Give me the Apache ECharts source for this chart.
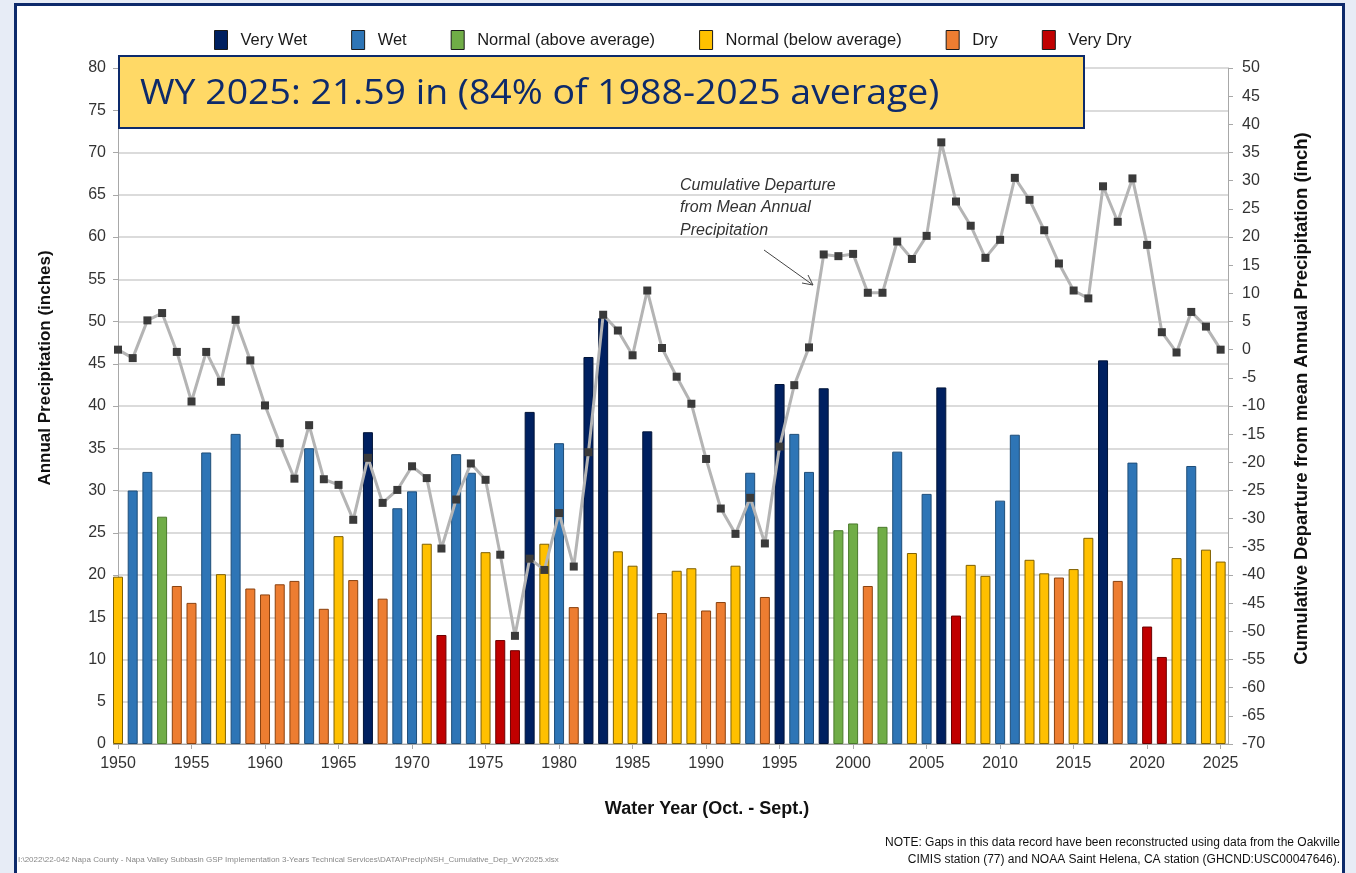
<!DOCTYPE html>
<html>
<head>
<meta charset="utf-8">
<script src="https://cdn.jsdelivr.net/npm/echarts@6/dist/echarts.min.js"></script>
<style>
  html, body { margin: 0; padding: 0; background: #e7ecf6; }
  #panel { position: absolute; left: 14px; top: 3px; width: 1331px; height: 890px;
           background: #fff; border: 3px solid #0d2a6b; box-sizing: border-box; }
  #chart { position: absolute; left: 0; top: 0; width: 1356px; height: 873px; }
</style>
</head>
<body>
<div id="panel"></div>
<div id="chart"></div>
<script>
// water years
const years = [
  1950, 1951, 1952, 1953, 1954, 1955, 1956, 1957, 1958, 1959,
  1960, 1961, 1962, 1963, 1964, 1965, 1966, 1967, 1968, 1969,
  1970, 1971, 1972, 1973, 1974, 1975, 1976, 1977, 1978, 1979,
  1980, 1981, 1982, 1983, 1984, 1985, 1986, 1987, 1988, 1989,
  1990, 1991, 1992, 1993, 1994, 1995, 1996, 1997, 1998, 1999,
  2000, 2001, 2002, 2003, 2004, 2005, 2006, 2007, 2008, 2009,
  2010, 2011, 2012, 2013, 2014, 2015, 2016, 2017, 2018, 2019,
  2020, 2021, 2022, 2023, 2024, 2025
];

// annual precipitation (inches)
const precip = [
  19.8, 30.0, 32.2, 26.9, 18.7, 16.7, 34.5, 20.1, 36.7, 18.4,
  17.7, 18.9, 19.3, 35.0, 16.0, 24.6, 19.4, 36.9, 17.2, 27.9,
  29.9, 23.7, 12.9, 34.3, 32.1, 22.7, 12.3, 11.1, 39.3, 23.7,
  35.6, 16.2, 45.8, 50.4, 22.8, 21.1, 37.0, 15.5, 20.5, 20.8,
  15.8, 16.8, 21.1, 32.1, 17.4, 42.6, 36.7, 32.2, 42.1, 25.3,
  26.1, 18.7, 25.7, 34.6, 22.6, 29.6, 42.2, 15.2, 21.2, 19.9,
  28.8, 36.6, 21.8, 20.2, 19.7, 20.7, 24.4, 45.4, 19.3, 33.3,
  13.9, 10.3, 22.0, 32.9, 23.0, 21.59
];

// year type: VW very wet, W wet, NA normal above, NB normal below, D dry, VD very dry
const yearType = [
  'NB', 'W', 'W', 'NA', 'D', 'D', 'W', 'NB', 'W', 'D',
  'D', 'D', 'D', 'W', 'D', 'NB', 'D', 'VW', 'D', 'W',
  'W', 'NB', 'VD', 'W', 'W', 'NB', 'VD', 'VD', 'VW', 'NB',
  'W', 'D', 'VW', 'VW', 'NB', 'NB', 'VW', 'D', 'NB', 'NB',
  'D', 'D', 'NB', 'W', 'D', 'VW', 'W', 'W', 'VW', 'NA',
  'NA', 'D', 'NA', 'W', 'NB', 'W', 'VW', 'VD', 'NB', 'NB',
  'W', 'W', 'NB', 'NB', 'D', 'NB', 'NB', 'VW', 'D', 'W',
  'VD', 'VD', 'NB', 'W', 'NB', 'NB'
];

// cumulative departure from mean annual precipitation (inch)
const cumDeparture = [
  0.0, -1.5, 5.2, 6.5, -0.4, -9.2, -0.4, -5.7, 5.3, -1.9,
  -9.9, -16.6, -22.9, -13.4, -23.0, -24.0, -30.2, -19.2, -27.2, -24.9,
  -20.7, -22.8, -35.3, -26.6, -20.2, -23.1, -36.4, -50.8, -37.1, -39.1,
  -29.0, -38.5, -18.2, 6.2, 3.4, -1.0, 10.5, 0.3, -4.8, -9.6,
  -19.4, -28.2, -32.7, -26.3, -34.4, -17.2, -6.3, 0.4, 16.9, 16.6,
  17.0, 10.1, 10.1, 19.2, 16.1, 20.2, 36.8, 26.3, 22.0, 16.3,
  19.5, 30.5, 26.6, 21.2, 15.3, 10.5, 9.1, 29.0, 22.7, 30.4,
  18.6, 3.1, -0.5, 6.7, 4.1, 0.0
];

const typeCodes = ['VW', 'W', 'NA', 'NB', 'D', 'VD'];
const typeNames = ['Very Wet', 'Wet', 'Normal (above average)', 'Normal (below average)', 'Dry', 'Very Dry'];
const typeColors = ['#002060', '#2e75b6', '#70ad47', '#ffc000', '#ed7d31', '#c00000'];
const typeBorders = ['#001438', '#1f4e79', '#4a7a2c', '#7f6000', '#8a4210', '#6e0000'];

const xTicks = [1950, 1955, 1960, 1965, 1970, 1975, 1980, 1985, 1990, 1995, 2000, 2005, 2010, 2015, 2020, 2025];

const FONT = 'Liberation Sans, Arial, sans-serif';
const chart = echarts.init(document.getElementById('chart'), null, { renderer: 'canvas' });

const barSeries = typeCodes.map((code, k) => ({
  name: typeNames[k],
  type: 'bar',
  barWidth: 10,
  barGap: '-100%',
  clip: true,
  itemStyle: { color: typeColors[k], borderColor: typeBorders[k], borderWidth: 1 },
  data: years.map((y, i) => (yearType[i] === code ? [y, precip[i]] : null)).filter(d => d)
}));

const lineSeries = {
  name: 'Cumulative Departure',
  type: 'line',
  yAxisIndex: 1,
  symbol: 'rect',
  symbolSize: 8,
  z: 5,
  itemStyle: { color: '#3a3a3a' },
  lineStyle: { color: '#b4b4b4', width: 3 },
  data: years.map((y, i) => [y, cumDeparture[i]])
};

const axisGrey = '#a8a8a8';

const option = {
  animation: false,
  textStyle: { fontFamily: FONT },
  legend: {
    data: typeNames,
    top: 25,
    left: 209,
    itemWidth: 13,
    itemHeight: 19,
    itemGap: 44,
    icon: 'rect',
    itemStyle: { borderColor: '#1a1a1a', borderWidth: 1 },
    textStyle: { fontSize: 16.5, color: '#1a1a1a', padding: [0, 0, 0, 8] }
  },
  grid: { left: 118, right: 128, top: 68, bottom: 129, containLabel: false },
  xAxis: {
    type: 'value',
    min: 1950,
    max: 2025.5,
    axisLine: { lineStyle: { color: axisGrey } },
    axisTick: { show: true, length: 5, customValues: xTicks, lineStyle: { color: axisGrey } },
    axisLabel: { fontSize: 16, color: '#333', margin: 12, customValues: xTicks, formatter: v => String(v) },
    splitLine: { show: false },
    name: 'Water Year (Oct. - Sept.)',
    nameLocation: 'middle',
    nameGap: 56,
    nameTextStyle: { fontSize: 18, fontWeight: 'bold', color: '#111', padding: [0, 0, 0, 68] }
  },
  yAxis: [
    {
      type: 'value',
      min: 0,
      max: 80,
      interval: 5,
      position: 'left',
      axisLine: { show: true, lineStyle: { color: axisGrey } },
      axisTick: { show: true, length: 5, lineStyle: { color: axisGrey } },
      axisLabel: { fontSize: 16, color: '#333', margin: 12 },
      splitLine: { lineStyle: { color: '#cfcfcf', width: 1.5 } },
      name: 'Annual Precipitation (inches)',
      nameLocation: 'middle',
      nameRotate: 90,
      nameGap: 64,
      nameTextStyle: { fontSize: 17, fontWeight: 'bold', color: '#111', padding: [0, 0, 0, 76] }
    },
    {
      type: 'value',
      min: -70,
      max: 50,
      interval: 5,
      position: 'right',
      axisLine: { show: true, lineStyle: { color: axisGrey } },
      axisTick: { show: true, length: 5, lineStyle: { color: axisGrey } },
      axisLabel: { fontSize: 16, color: '#333', margin: 14 },
      splitLine: { show: false },
      name: 'Cumulative Departure from mean Annual Precipitation (inch)',
      nameLocation: 'middle',
      nameRotate: 90,
      nameGap: 64,
      nameTextStyle: { fontSize: 18.5, fontWeight: 'bold', color: '#111', padding: [0, 0, 0, 15] }
    }
  ],
  graphic: [
    {
      type: 'rect', z: 100,
      shape: { x: 119, y: 56, width: 965, height: 72 },
      style: { fill: '#ffd966', stroke: '#0d2a6b', lineWidth: 2 }
    },
    {
      type: 'text', z: 101, x: 140, y: 94, scaleX: 1.07,
      style: {
        text: 'WY 2025: 21.59 in (84% of 1988-2025 average)',
        fontFamily: 'Open Sans, Liberation Sans, sans-serif', fontSize: 35,
        fill: '#0d2a6b', verticalAlign: 'middle'
      }
    },
    {
      type: 'text', z: 101, x: 680, y: 174,
      style: {
        text: 'Cumulative Departure\nfrom Mean Annual\nPrecipitation',
        fontFamily: FONT, fontSize: 16, fontStyle: 'italic', lineHeight: 22.5, fill: '#333'
      }
    },
    {
      type: 'polyline', z: 101,
      shape: { points: [[764, 250], [813, 285]] },
      style: { stroke: '#444', lineWidth: 1 }
    },
    {
      type: 'polyline', z: 101,
      shape: { points: [[802, 283], [813, 285], [808, 275]] },
      style: { stroke: '#444', lineWidth: 1, fill: null }
    },
    {
      type: 'text', z: 101, x: 1340, y: 834,
      style: {
        text: 'NOTE: Gaps in this data record have been reconstructed using data from the Oakville\nCIMIS station (77) and NOAA Saint Helena, CA station (GHCND:USC00047646).',
        fontFamily: 'Liberation Sans Narrow, Liberation Sans, sans-serif', fontSize: 12,
        lineHeight: 17, align: 'right', fill: '#111'
      }
    },
    {
      type: 'text', z: 101, x: 18, y: 856,
      style: {
        text: 'I:\\2022\\22-042 Napa County - Napa Valley Subbasin GSP Implementation 3-Years Technical Services\\DATA\\Precip\\NSH_Cumulative_Dep_WY2025.xlsx',
        fontFamily: 'Liberation Sans Narrow, Liberation Sans, sans-serif', fontSize: 8, fill: '#888'
      }
    }
  ],
  series: barSeries.concat([lineSeries])
};

chart.setOption(option);
</script>
</body>
</html>
